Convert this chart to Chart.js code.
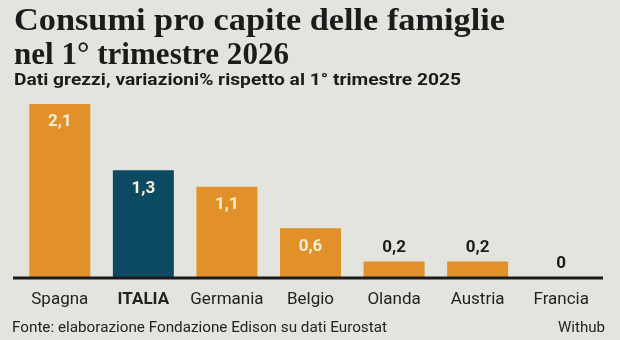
<!DOCTYPE html>
<html lang="it">
<head>
    <meta charset="UTF-8">
    <title>Consumi pro capite</title>
    <style>
        html, body {margin: 0; padding: 0; background: #e4e4df;}
        .wrap {position: relative; width: 620px; height: 340px; overflow: hidden; background: #e4e4df;}
        #myChart {position: absolute; left: 0; top: 0;}
        .txt {position: absolute; white-space: nowrap; transform-origin: 0 0; color: #1b1b1b;}
        .title {left: 14px; font-family: "Liberation Serif", serif; font-weight: bold; font-size: 32px; line-height: 34px;}
        .sub {left: 14px; top: 69px; font-family: Roboto, sans-serif; font-weight: bold; font-size: 17px; line-height: 20px;}
        .foot {top: 318px; font-family: Roboto, sans-serif; font-size: 15px; line-height: 18px; color: #222;}
    </style>
</head>
<body>
    <div class="wrap">
        <canvas id="myChart" width="620" height="340"></canvas>
        <div class="txt title" id="t1" style="top:2px" data-w="491">Consumi pro capite delle famiglie</div>
        <div class="txt title" id="t2" style="top:36px" data-w="275">nel 1° trimestre 2026</div>
        <div class="txt sub" id="t3" data-w="447">Dati grezzi, variazioni% rispetto al 1° trimestre 2025</div>
        <div class="txt foot" id="t4" style="left:12px" data-w="375">Fonte: elaborazione Fondazione Edison su dati Eurostat</div>
        <div class="txt foot" id="t5" style="left:558px" data-w="47">Withub</div>
    </div>

    <script src="https://cdn.jsdelivr.net/npm/chart.js@4.4.0/dist/chart.umd.min.js"></script>
    <script>
        // dati
        const paesi = ['Spagna', 'ITALIA', 'Germania', 'Belgio', 'Olanda', 'Austria', 'Francia'];
        const variazioni = [2.1, 1.3, 1.1, 0.6, 0.2, 0.2, 0];
        const evidenziato = 'ITALIA';

        const arancio = '#e1902a';
        const blu = '#0c4a62';

        // adatta la larghezza dei testi (font condensati non disponibili)
        document.querySelectorAll('.txt').forEach(el => {
            const target = parseFloat(el.dataset.w);
            const w = el.getBoundingClientRect().width;
            if (w > 0) el.style.transform = 'scaleX(' + (target / w) + ')';
        });

        const fmt = v => String(v).replace('.', ',');

        // etichette dei valori
        const valueLabels = {
            id: 'valueLabels',
            afterDatasetsDraw(chart) {
                const c = chart.ctx;
                const meta = chart.getDatasetMeta(0);
                c.save();
                c.font = 'bold 17px Roboto, sans-serif';
                c.textAlign = 'center';
                c.textBaseline = 'middle';
                meta.data.forEach((bar, i) => {
                    const v = variazioni[i];
                    if (v >= 0.5) {
                        c.fillStyle = '#fbefd8';
                        c.fillText(fmt(v), bar.x, bar.y + 18);
                    } else {
                        c.fillStyle = '#1b1b1b';
                        c.fillText(fmt(v), bar.x, bar.y - 14);
                    }
                });
                c.restore();
            }
        };

        // linea di base
        const baseLine = {
            id: 'baseLine',
            afterDatasetsDraw(chart) {
                const c = chart.ctx;
                const a = chart.chartArea;
                c.save();
                c.strokeStyle = '#1b1b1b';
                c.lineWidth = 3;
                c.beginPath();
                c.moveTo(a.left - 5, a.bottom);
                c.lineTo(a.right, a.bottom);
                c.stroke();
                c.restore();
            }
        };

        const ctx = document.getElementById('myChart').getContext('2d');
        const myChart = new Chart(ctx, {
            type: 'bar',
            plugins: [valueLabels, baseLine],
            data: {
                labels: paesi,
                datasets: [{
                    data: variazioni,
                    backgroundColor: paesi.map(p => p === evidenziato ? blu : arancio),
                    barPercentage: 0.73,
                    categoryPercentage: 1
                }]
            },
            options: {
                responsive: false,
                animation: false,
                layout: {padding: {top: 104, left: 18, right: 17, bottom: 0}},
                plugins: {legend: {display: false}, tooltip: {enabled: false}},
                scales: {
                    x: {
                        grid: {display: false, drawTicks: false},
                        border: {display: false},
                        afterFit: s => { s.height = 62; },
                        ticks: {
                            padding: 12,
                            color: '#222',
                            font: c => ({
                                family: 'Roboto, sans-serif',
                                size: 17,
                                weight: paesi[c.index] === evidenziato ? 'bold' : 'normal'
                            })
                        }
                    },
                    y: {display: false, min: 0, max: 2.1}
                }
            }
        });
    </script>
</body>
</html>
